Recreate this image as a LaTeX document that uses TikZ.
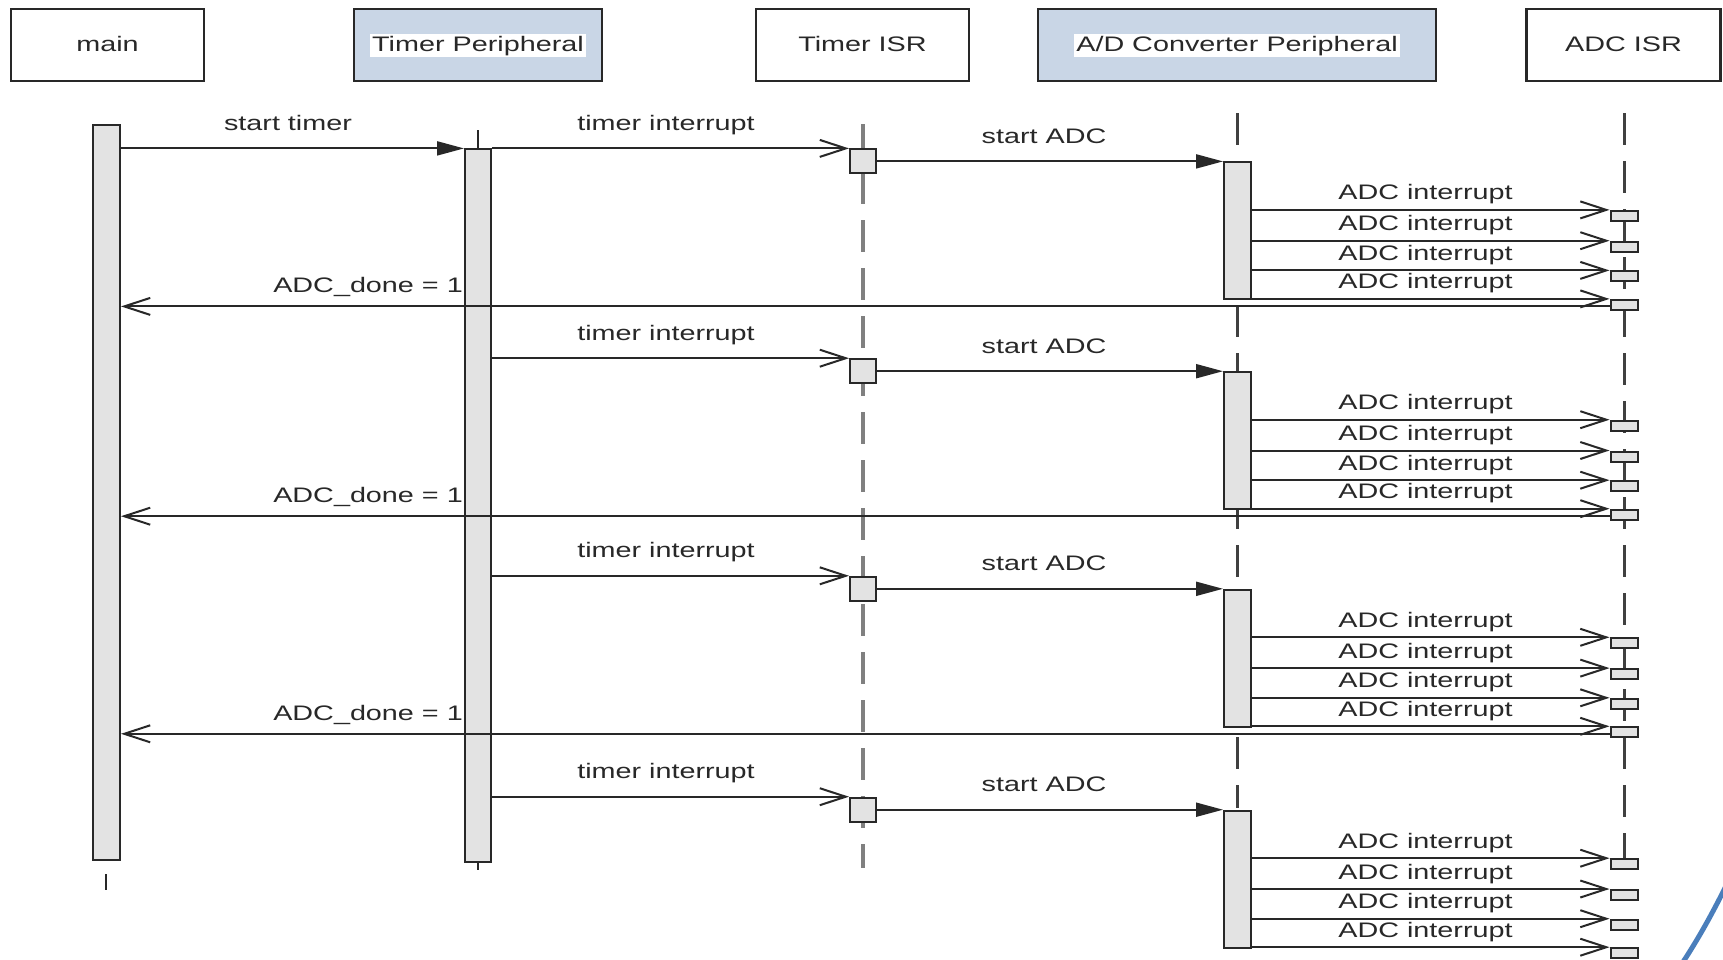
\documentclass[tikz,border=0pt]{standalone}
\usepackage{fontspec}
\setmainfont{Liberation Sans}
\usetikzlibrary{arrows.meta}
\definecolor{hdrblue}{RGB}{201,214,230}
\definecolor{barfill}{RGB}{227,227,227}
\definecolor{arcblue}{RGB}{74,126,187}
\definecolor{ink}{RGB}{40,40,40}
\newcommand{\sx}[1]{\scalebox{1.37}[1]{#1}}
\begin{document}
\begin{tikzpicture}[x=1pt,y=-1pt,
  lbl/.style={font=\fontsize{21}{25}\selectfont, text=ink, inner sep=1pt},
  hdr/.style={draw=ink, line width=2.5pt, minimum width=#1, minimum height=72pt, inner sep=0pt},
  bar/.style={draw=ink, fill=barfill, line width=2pt, inner sep=0pt},
  tisrline/.style={draw=black!50, line width=4pt, dash pattern=on 32pt off 16pt},
  adcline/.style={draw=black!75, line width=3pt, dash pattern=on 32pt off 16pt},
  stub/.style={draw=ink, line width=2pt},
  call/.style={draw=ink, line width=2pt, -{Triangle[length=27pt,width=14pt]}},
  async/.style={draw=ink, line width=2pt, -{Straight Barb[length=26pt,width=17pt]}}
]
\useasboundingbox (0,0) rectangle (1723,959);
\clip (0,0) rectangle (1723,959);
\fill[white] (0,0) rectangle (1723,959);

% header boxes
\node[hdr=193pt, fill=white] (hmain) at (107.5,45) {};
\node[hdr=248pt, fill=hdrblue] (htp) at (478,45) {};
\node[hdr=213pt, fill=white] (htisr) at (862.5,45) {};
\node[hdr=398pt, fill=hdrblue] (hadcp) at (1237,45) {};
\node[hdr=194pt, fill=white] (hadcisr) at (1623.5,45) {};
\node[lbl, anchor=base] (tmain) at (107.5,51) {\sx{main}};
\node[lbl, anchor=base, fill=white, inner sep=2pt] (ttp) at (478,51) {\sx{Timer Peripheral}};
\node[lbl, anchor=base] (ttisr) at (862.5,51) {\sx{Timer ISR}};
\node[lbl, anchor=base, fill=white, inner sep=2pt] (tadcp) at (1237,51) {\sx{A/D Converter Peripheral}};
\node[lbl, anchor=base] (tadcisr) at (1623.5,51) {\sx{ADC ISR}};

% lifelines
\draw[tisrline] (863,124) -- (863,868);
\draw[adcline] (1237.5,113) -- (1237.5,808);
\draw[adcline] (1624,113) -- (1624,858);

% activation bars
\node[bar, minimum width=27pt, minimum height=735pt, anchor=north] (mainbar) at (106.5,124) {};
\node[bar, minimum width=26pt, minimum height=713pt, anchor=north] (tpbar) at (478,148.4) {};
\draw[stub] (478,130) -- (tpbar.north);
\draw[stub] (tpbar.south) -- (478,870);
\draw[stub] (106,874) -- (106,890);

\foreach \t [count=\c] in {148.4,358.2,575.8,796.7} {
  \node[bar, minimum width=26pt, minimum height=24pt, anchor=north] (tisr\c) at (863,\t) {};
  \node[bar, minimum width=27pt, minimum height=137pt, anchor=north] (adcact\c) at (1237.5,\t+13) {};
  \foreach \o [count=\k] in {61.5,92.3,122,150.5} {
    \node[bar, minimum width=27pt, minimum height=10pt, anchor=north] (isr\c\k) at (1624,\t+\o) {};
  }
}

% messages
\draw[call] (mainbar.east |- tpbar.north) -- (tpbar.north west);
\node[lbl, anchor=base] (lst) at (288,130) {\sx{start timer}};

\foreach \t [count=\c] in {148.4,358.2,575.8,796.7} {
  \draw[async] (tpbar.east |- tisr\c.north) -- (tisr\c.north west);
  \node[lbl, anchor=base] (lti\c) at (666,\t-18) {\sx{timer interrupt}};
  \draw[call] (tisr\c.east |- adcact\c.north) -- (adcact\c.north west);
  \node[lbl, anchor=base] (lsa\c) at (1044,\t-5) {\sx{start ADC}};
  \foreach \o [count=\k] in {61.5,92.3,122,150.5} {
    \draw[async] (adcact\c.east |- isr\c\k.north) -- (isr\c\k.north west);
    \node[lbl, anchor=base] (lai\c\k) at (1425.5,\t+\o-10) {\sx{ADC interrupt}};
  }
}
\foreach \t [count=\c] in {148.4,358.2,575.8} {
  \path (0,\t+158) coordinate (dn\c);
  \node[lbl, anchor=base east, fill=white] (ldn\c) at (464,\t+144.5) {\sx{ADC\_done = 1}};
  \draw[async] (isr\c4.west |- dn\c) -- (mainbar.east |- dn\c);
}

% decorative arc
\draw[arcblue, line width=5pt] (1683,962) .. controls (1700,936) and (1713,912) .. (1727,884);
\end{tikzpicture}
\end{document}
